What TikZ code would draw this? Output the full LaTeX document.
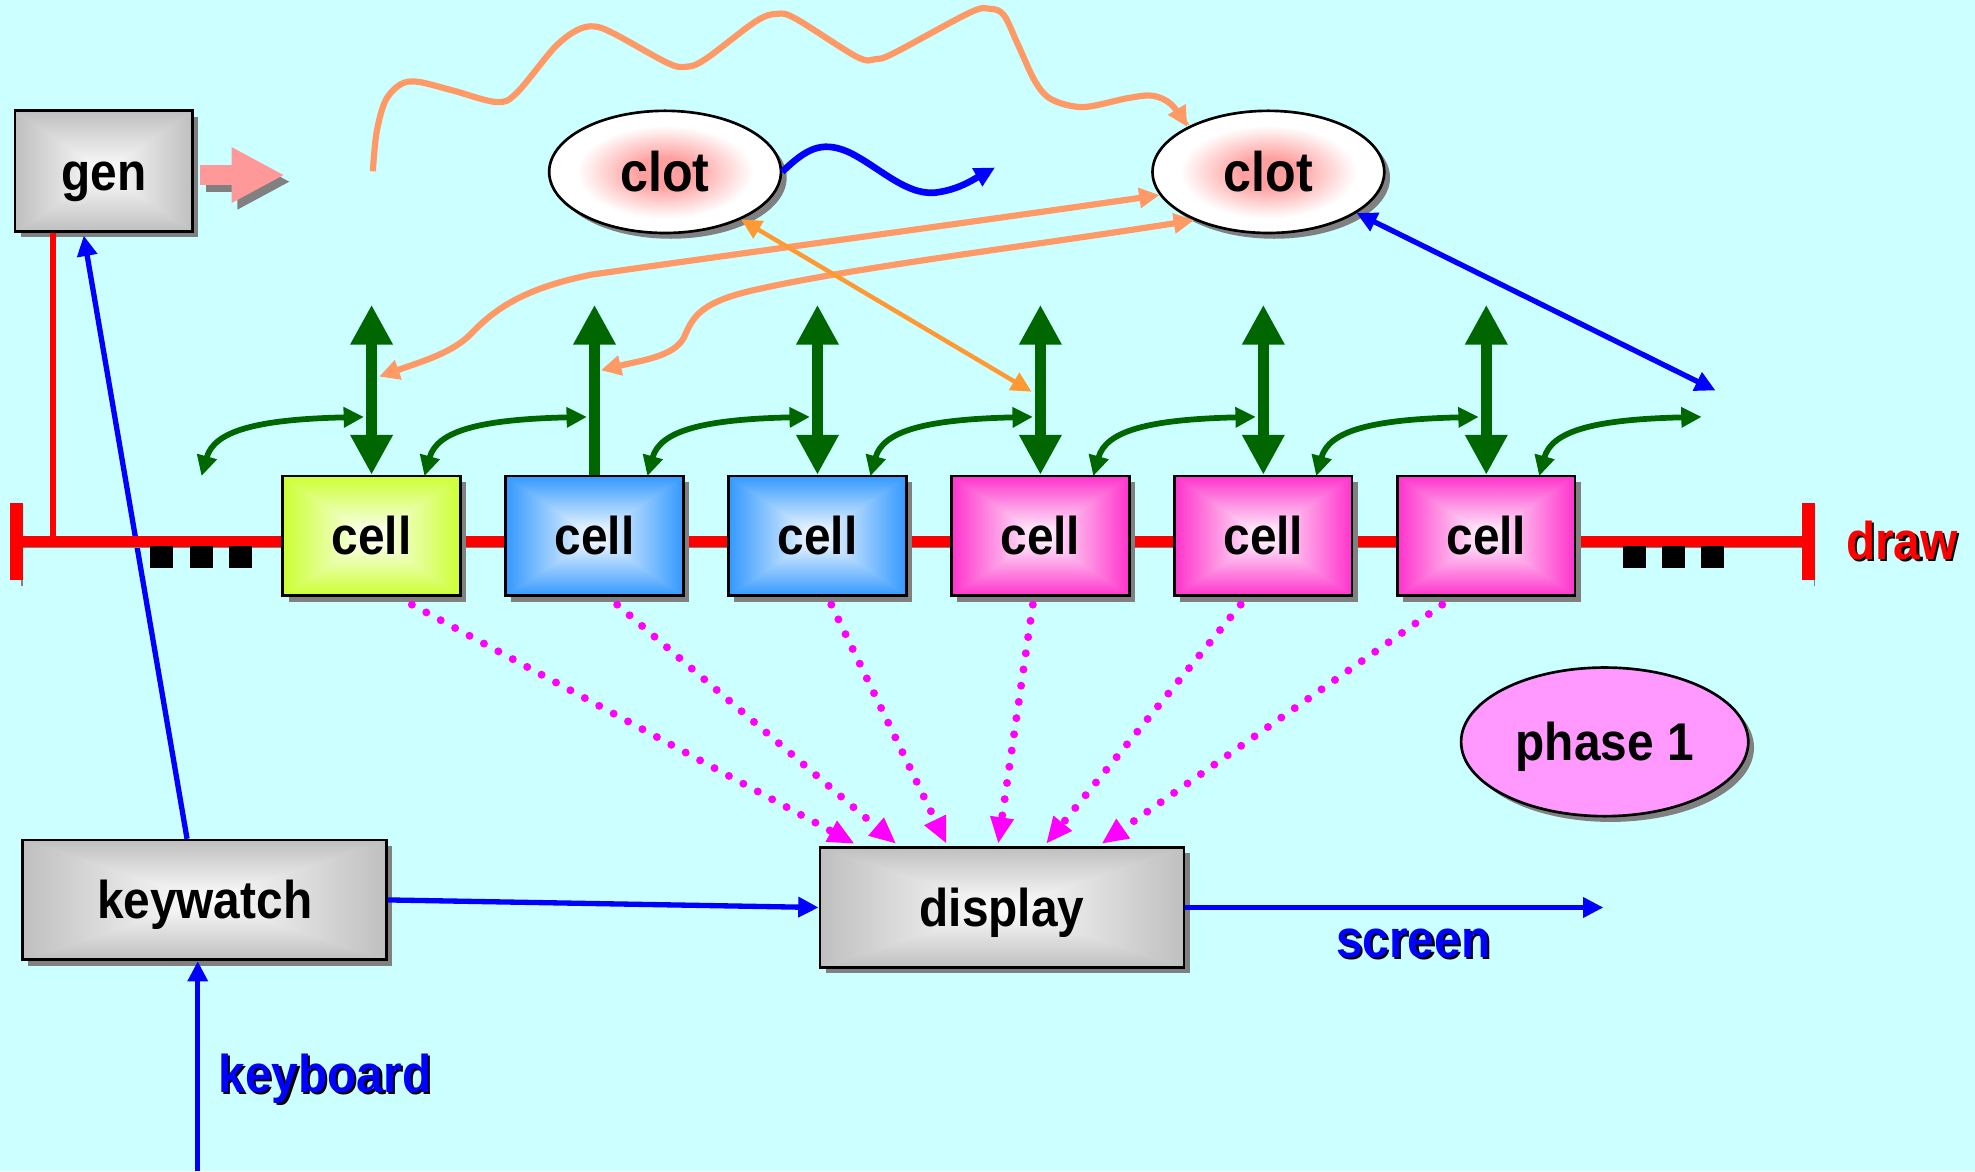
\documentclass[tikz,border=0pt]{standalone}
\usepackage{fontspec}
\setmainfont{Liberation Sans}[FakeStretch=0.9]
\usetikzlibrary{arrows.meta, shapes.geometric, shadows, calc}
\definecolor{bgcyan}{RGB}{204,255,255}
\definecolor{Dgreen}{RGB}{0,102,0}
\definecolor{Salmon}{RGB}{255,153,102}
\definecolor{Amber}{RGB}{255,153,51}
\definecolor{Rose}{RGB}{255,153,153}
\definecolor{Lilac}{RGB}{255,153,255}
\definecolor{Shade}{RGB}{128,128,128}
\definecolor{clotpink}{RGB}{255,160,160}
\definecolor{Fuchsia}{RGB}{255,0,255}

% rectangular shading: white centre, coloured rim
\newcommand\rectshade[4]{%
  \pgfdeclarefunctionalshading{#1}{\pgfpoint{-50bp}{-50bp}}{\pgfpoint{50bp}{50bp}}{}{%
    abs exch abs 2 copy lt {exch} if pop 25 div dup 1 gt {pop 1} if
    dup #2 mul 1 exch sub exch dup #3 mul 1 exch sub exch #4 mul 1 exch sub}}
\rectshade{boxgray}{0.25}{0.25}{0.25}
\rectshade{cellyg}{0.2}{0}{0.8}
\rectshade{cellbl}{0.8}{0.4}{0}
\rectshade{cellmg}{0}{0.8}{0.2}
\pgfdeclareradialshading{clotshade}{\pgfpointorigin}{color(0bp)=(clotpink); color(6bp)=(clotpink); color(19bp)=(white); color(50bp)=(white)}

\newcommand\lab{\fontsize{12}{14}\selectfont\bfseries}
\newcommand\labbig{\fontsize{12.6}{14}\selectfont\bfseries}
\newcommand\shtxt[2]{\rlap{\hspace{.5pt}\raisebox{-.5pt}{\color{black}#2}}{\color{#1}#2}}

\tikzset{
  gtip/.tip={Triangle[width=9pt,length=9pt]},
  stip/.tip={Triangle[width=4.4pt,length=4.6pt]},
  mtip/.tip={Triangle[width=5pt,length=6pt]},
  shd/.style={general shadow={fill=Shade, shadow xshift=1.3pt, shadow yshift=-1.3pt}},
  lshd/.style={preaction={draw=Shade, transform canvas={shift={(1.3pt,-1.3pt)}}}},
  shadedbox/.style={draw, line width=.6pt, shade, shading=#1, shd, inner sep=0pt,
    font=\lab, text height=8.6pt, text depth=0pt},
  proc/.style={shadedbox=boxgray, minimum width=28.9mm, minimum height=9.5mm},
  cellbox/.style={shadedbox=#1, minimum width=14.1mm, minimum height=9.5mm},
  clotnode/.style={ellipse, draw, line width=.6pt, shade, shading=clotshade, shd,
    minimum width=18.4mm, minimum height=9.7mm, inner sep=0pt, font=\labbig,
    text height=9pt, text depth=0pt},
  phasenode/.style={ellipse, draw, line width=.6pt, fill=Lilac, shd,
    minimum width=22.8mm, minimum height=11.8mm, inner sep=0pt, font=\lab,
    text height=8.6pt, text depth=0pt},
  sq/.style={fill=black, minimum width=1.8mm, minimum height=1.75mm, inner sep=0pt},
  bus/.style={red, line width=2.6pt, lshd},
  busend/.style={red, line width=2.9pt, lshd},
  gvert/.style={Dgreen, line width=2.6pt, -gtip},
  gcurve/.style={Dgreen, line width=1.3pt, stip-stip},
  bline/.style={blue, line width=1.2pt, -stip},
  oline/.style={Salmon, line width=1.4pt},
  cline/.style={Amber, line width=1pt, stip-stip},
  mdots/.style={Fuchsia, line width=1.8pt, line cap=round, dash pattern=on 0pt off 3.7pt, -mtip},
  pinkarr/.style={line width=4.5pt, -{Triangle[width=11.7pt,length=12pt]}},
  tag/.style={font=\lab, inner sep=0pt}
}

\begin{document}
\begin{tikzpicture}[x=0.1mm, y=-0.1mm]
\path[fill=bgcyan, use as bounding box] (0,0) rectangle (1568,930);

% boxes off the bus
\node[proc, minimum width=14.1mm, minimum height=9.6mm] (gen) at (82.5,136) {gen};
\node[proc] (keywatch) at (162.5,714.5) {keywatch};
\node[proc] (display) at (795.5,720.5) {display};
\node[clotnode] (clot1) at (528,136.5) {clot};
\node[clotnode] (clot2) at (1007,136.5) {clot};
\node[phasenode] (phase) at (1274,589) {phase 1};

\coordinate (busL) at (13,430);
\coordinate (busR) at (1436,430);
\coordinate (tap) at (42,430);
\coordinate (genout) at (226,139);
\coordinate (scr) at (1273,720.5);
\coordinate (kb) at (157,930);

% keyboard side
\draw[bline] ($(keywatch.north)+(-14,0)$) -- ($(gen.south)+(-16,2)$);
\draw[bline] (kb) -- (kb |- keywatch.south);
\draw[bline] (keywatch.east) -- (display.west);
\draw[bline] (display.east) -- (scr);
\node[tag] (kblbl) at (258,857) {\shtxt{blue}{keyboard}};
\node[tag] (scrlbl) at (1122,750) {\shtxt{blue}{screen}};

% gen output
\draw[pinkarr, Shade, transform canvas={shift={(1.3pt,-1.5pt)}}] ($(gen.east)+(5,3)$) -- (genout);
\draw[pinkarr, Rose] ($(gen.east)+(5,3)$) -- (genout);

% the draw bus
\draw[red, line width=1.5pt] (tap) -- (tap |- gen.south);
\draw[bus] (busL) -- (busR);
\draw[busend] ($(busL)+(0,-30.5)$) -- ($(busL)+(0,30.5)$);
\draw[busend] ($(busR)+(0,-30.5)$) -- ($(busR)+(0,30.5)$);
\foreach \x in {128,160,191,1297.5,1328.5,1359.5} \node[sq] at (\x,442.5) {};
\node[tag, anchor=west] (drawlbl) at (1465,430) {\shtxt{red}{draw}};

% cells
\foreach \i/\sh in {1/cellyg,2/cellbl,3/cellbl,4/cellmg,5/cellmg,6/cellmg}
  \node[cellbox=\sh] (c\i) at ({295+177*(\i-1)},425.5) {cell};

% green links
\foreach \i in {1,...,6} \coordinate (up\i) at ($(c\i.north)+(0,-135)$);
\foreach \i in {1,3,4,5,6} \draw[gvert, gtip-gtip] (c\i.north) -- (up\i);
\draw[gvert] (c2.north) -- (up2);
\foreach \i in {0,...,6} {
  \coordinate (gs\i) at ({160+177*\i},378);
  \coordinate (ge\i) at ({289+177*\i},331);
  \draw[gcurve] (gs\i) .. controls +(10,-36) and +(-85,2) .. (ge\i);
}

% clot links
\coordinate (oa) at (301,299);
\coordinate (ob) at (477,294);
\coordinate (oc) at (819,311);
\coordinate (bd) at (1362,310);
\coordinate (bw) at (790,133);
\coordinate (wv0) at (296,136);
\draw[oline, stip-stip] (oa) .. controls (335,287) and (360,280) .. (375,264)
  .. controls (395,243) and (420,228) .. (470,218)
  .. controls (560,205) and (760,178) .. (clot2.192);
\draw[oline, stip-stip] (ob) .. controls (510,286) and (535,283) .. (543,268)
  .. controls (550,252) and (555,240) .. (600,230)
  .. controls (680,212) and (820,195) .. (clot2.213);
\draw[cline] (clot1.328) -- (oc);
\draw[bline, stip-stip] (clot2.335) -- (bd);
\draw[bline, line width=1.5pt] (clot1.east) .. controls (640,118) and (652,112) .. (672,120)
  .. controls (695,130) and (718,155) .. (742,153)
  .. controls (760,151) and (772,143) .. (bw);
\draw[oline, -stip] plot[smooth, tension=.55] coordinates {(wv0) (299,105) (306,80)
  (318,67) (332,65) (360,72) (394,81) (410,74) (440,38) (458,24) (472,21) (488,27)
  (530,50) (545,53) (560,47) (600,17) (617,11) (632,15) (680,45) (695,47) (710,42)
  (770,10) (786,7) (797,12) (808,35) (822,65) (835,79) (860,85) (895,78) (915,76)
  (930,83) (clot2.151)};

% cells to display
\foreach \i/\a/\b in {1/32/-117,2/18/-84,3/11/-44,4/-6/-3,5/-18/35,6/-35/79}
  \draw[mdots] ($(c\i.south)+(\a,6)$) -- ($(display.north)+(\b,-2)$);
\end{tikzpicture}
\end{document}
